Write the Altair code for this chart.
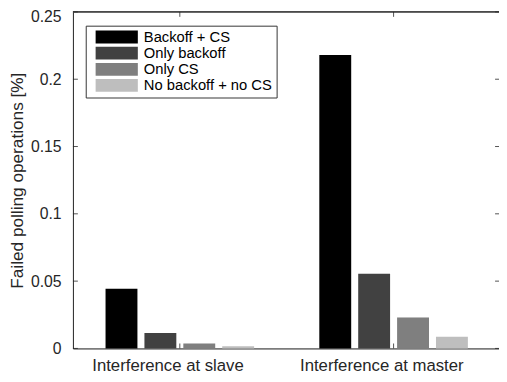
import altair as alt
import pandas as pd

categories = ["Interference at slave", "Interference at master"]
series = ["Backoff + CS", "Only backoff", "Only CS", "No backoff + no CS"]
colors = ["#000000", "#414141", "#7f7f7f", "#bebebe"]
slave_values = [0.0444, 0.0115, 0.0037, 0.0016]
master_values = [0.218, 0.0554, 0.0230, 0.0086]
y_ticks = [0, 0.05, 0.1, 0.15, 0.2, 0.25]

rows = []
for s, a, b in zip(series, slave_values, master_values):
    rows.append({"category": categories[0], "series": s, "value": a})
    rows.append({"category": categories[1], "series": s, "value": b})
df = pd.DataFrame(rows)
ticks_df = pd.DataFrame({"value": y_ticks})
cats_df = pd.DataFrame({"category": categories})

W = 433
H = 342
FONT = "Liberation Sans"
AX = "#262626"

xscale = alt.Scale(domain=categories, range=[0, 434.5], paddingInner=0.305, paddingOuter=0.1525)
yscale = alt.Scale(domain=[0, 0.25], nice=False, zero=True)

xaxis = alt.Axis(title=None, labelAngle=0, ticks=False, tickSize=0,
                 labelPadding=22, labelBaseline="alphabetic", labelOffset=-12,
                 labelFontSize=17, labelFont=FONT, labelColor=AX,
                 domainColor=AX, grid=False)
yaxis = alt.Axis(title="Failed polling operations [%]", values=y_ticks,
                 format=".2~f", ticks=False, tickSize=0, grid=False,
                 labelPadding=12, labelFontSize=16, labelFont=FONT,
                 labelOffset={"condition": {"test": "datum.value >= 0.25", "value": 5}, "value": 0},
                 labelColor=AX, domainColor=AX,
                 titleFont=FONT, titleFontSize=17.5, titleFontWeight="normal",
                 titleColor=AX, titleX=-56, titleY=H / 2,
                 titleAngle=270, titleAlign="center", titleBaseline="middle")

X = alt.X("category:N", sort=categories, scale=xscale, axis=xaxis, title=None)
Y = alt.Y("value:Q", scale=yscale, axis=yaxis, title="Failed polling operations [%]")

bars = alt.Chart(df).mark_bar().encode(
    x=X,
    xOffset=alt.XOffset("series:N", sort=series,
                        scale=alt.Scale(paddingInner=0.18, paddingOuter=0)),
    y=Y,
    color=alt.Color("series:N", sort=series,
                    scale=alt.Scale(domain=series, range=colors),
                    legend=alt.Legend(title=None, orient="none", legendX=13, legendY=14,
                                      symbolType="M-3.3,-1L3.3,-1L3.3,1L-3.3,1Z",
                                      symbolSize=169, symbolStrokeWidth=0,
                                      symbolOpacity=1,
                                      symbolOffset=20, labelOffset=20,
                                      labelExpr="datum.label + '\u00a0\u00a0'",
                                      labelFont=FONT, labelFontSize=15, labelColor="#000000",
                                      rowPadding=0.4, padding=4,
                                      strokeColor="#333333", fillColor="#ffffff")),
)

yl = alt.Chart(ticks_df).mark_rule(color=AX, strokeWidth=0.8).encode(
    y=Y, x=alt.value(0), x2=alt.value(5))
yr = alt.Chart(ticks_df).mark_rule(color=AX, strokeWidth=0.8).encode(
    y=Y, x=alt.value(W - 4), x2=alt.value(W))
Xc = alt.X("category:N", sort=categories, scale=xscale, axis=xaxis, title=None, bandPosition=0.5)
xb = alt.Chart(cats_df).mark_rule(color=AX, strokeWidth=0.8).encode(
    x=Xc, y=alt.value(H - 5), y2=alt.value(H))
xt = alt.Chart(cats_df).mark_rule(color=AX, strokeWidth=0.8).encode(
    x=Xc, y=alt.value(0), y2=alt.value(5))
top = alt.Chart(cats_df).mark_rule(color=AX, strokeWidth=1).encode(
    x=alt.value(0), x2=alt.value(W), y=alt.value(0))

chart = alt.layer(bars, yl, yr, xb, xt, top).properties(
    width=W, height=H,
    autosize=alt.AutoSizeParams(type="none"),
    padding={"left": 66, "top": 1, "right": 0, "bottom": 23},
).configure_view(stroke=None).configure(background="#ffffff")

chart.save("out.html", embed_options={"renderer": "svg", "actions": False})
